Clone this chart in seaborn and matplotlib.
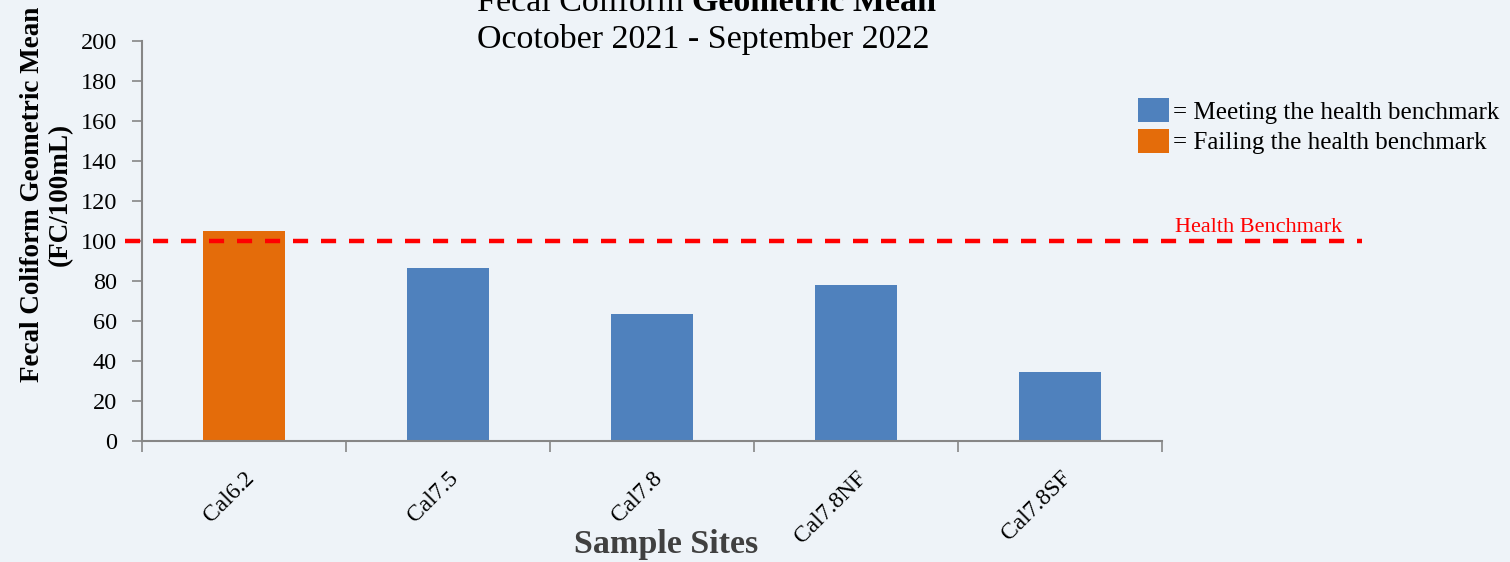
import matplotlib
matplotlib.use('Agg')
import matplotlib.pyplot as plt
import seaborn as sns
import pandas as pd
import numpy as np

# data
sites = ['Cal6.2', 'Cal7.5', 'Cal7.8', 'Cal7.8NF', 'Cal7.8SF']
geo_mean = [105, 86.5, 63.5, 78, 34.5]
benchmark = 100
meeting_label = '= Meeting the health benchmark'
failing_label = '= Failing the health benchmark'
y_ticks = list(range(0, 201, 20))

BG = '#EEF3F8'
GREY = '#868686'
BLUE = '#4F81BD'
ORANGE = '#E46C0A'


def build_frame():
    status = [failing_label if v > benchmark else meeting_label for v in geo_mean]
    return pd.DataFrame({'Site': sites, 'GeoMean': geo_mean, 'Status': status})


def plot_data(df, output_filename):
    sns.set_style('white', {'axes.facecolor': BG, 'figure.facecolor': BG,
                            'axes.edgecolor': GREY, 'text.color': 'black',
                            'xtick.color': 'black', 'ytick.color': 'black'})
    plt.rcParams['font.family'] = ['Liberation Serif', 'DejaVu Serif']

    fig = plt.figure(figsize=(15.1, 5.62), dpi=100)
    ax = fig.add_axes([142 / 1510, 1 - 441 / 562, 1020 / 1510, 400 / 562])

    sns.barplot(data=df, x='Site', y='GeoMean', hue='Status',
                hue_order=[meeting_label, failing_label],
                palette={meeting_label: BLUE, failing_label: ORANGE},
                dodge=False, width=0.4, saturation=1, linewidth=0, ax=ax)

    ax.set_xlim(-0.5, len(sites) - 0.5)
    ax.set_ylim(0, 200)
    ax.set_yticks(y_ticks)
    ax.tick_params(axis='y', direction='out', length=7, width=1.2, color=GREY,
                   labelcolor='black', labelsize=17.5, pad=11, left=True)

    # category boundaries as tick marks, names in between
    ax.set_xticks(np.arange(-0.5, len(sites), 1.0))
    ax.set_xticklabels([])
    ax.set_xticks(np.arange(len(sites)), minor=True)
    ax.set_xticklabels(sites, minor=True, rotation=45, ha='right',
                       rotation_mode='anchor', fontsize=17)
    ax.tick_params(axis='x', which='major', direction='out', length=8,
                   width=1.2, color=GREY, bottom=True)
    ax.tick_params(axis='x', which='minor', length=0, pad=19,
                   labelcolor='black')

    for side in ['top', 'right']:
        ax.spines[side].set_visible(False)
    for side in ['left', 'bottom']:
        ax.spines[side].set_linewidth(1.5)
        ax.spines[side].set_color(GREY)

    ax.set_xlabel('')
    ax.set_ylabel('')

    # health benchmark line runs past the plot area
    ax.plot([-0.583, 5.48], [benchmark, benchmark], color='#FF0000', lw=3.2,
            dashes=(3.4, 2.9), clip_on=False, zorder=5)
    ax.text(4.565, benchmark + 4.5, 'Health Benchmark', color='#FF0000',
            fontsize=16, ha='left', va='baseline', clip_on=False)

    # legend
    handles, labels = ax.get_legend_handles_labels()
    ax.legend(handles, labels, loc='upper left',
              bbox_to_anchor=(1138 / 1510, 1 - 98 / 562),
              bbox_transform=fig.transFigure, frameon=False, fontsize=18,
              handlelength=1.25, handleheight=1.1, handletextpad=0.15,
              labelspacing=0.2, borderaxespad=0, borderpad=0)

    # titles
    fig.text(692 / 1510, 1 - 11 / 562, 'Fecal Coliform ', ha='right',
             va='baseline', fontsize=24.5)
    fig.text(692 / 1510, 1 - 11 / 562, 'Geometric Mean', ha='left',
             va='baseline', fontsize=24.5, fontweight='bold')
    fig.text(703 / 1510, 1 - 48 / 562, 'Ocotober 2021 - September 2022',
             ha='center', va='baseline', fontsize=24.5)

    fig.text(46 / 1510, 1 - 194 / 562,
             'Fecal Coliform Geometric Mean\n(FC/100mL)', rotation=90,
             ha='center', va='center', fontsize=19.5, fontweight='bold',
             linespacing=1.15)
    fig.text(666 / 1510, 1 - 553 / 562, 'Sample Sites', ha='center',
             va='baseline', fontsize=24.5, fontweight='bold', color='#404040')

    plt.savefig(output_filename, dpi=100, facecolor=BG)


def main():
    df = build_frame()
    plot_data(df, 'out.png')


if __name__ == "__main__":
    main()
